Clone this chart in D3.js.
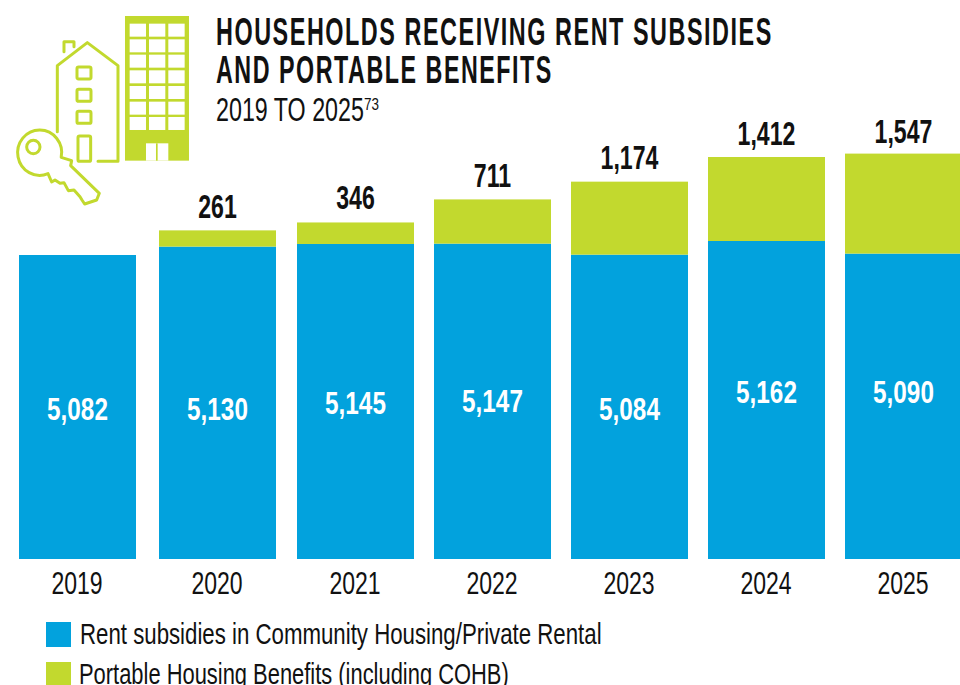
<!DOCTYPE html>
<html><head><meta charset="utf-8">
<script src="https://cdn.jsdelivr.net/npm/d3@7"></script>
<style>
html,body{margin:0;padding:0;background:#fff;overflow:hidden}
svg text{font-family:"Liberation Sans",sans-serif}
</style></head><body>
<svg id="chart" width="960" height="685"></svg>
<script>
// ---- data ----
const years = [2019,2020,2021,2022,2023,2024,2025];
const rentSubsidies = [5082,5130,5145,5147,5084,5162,5090];
const portableBenefits = [0,261,346,711,1174,1412,1547];
const seriesNames = ["Rent subsidies in Community Housing/Private Rental","Portable Housing Benefits (including COHB)"];
const titleLines = ["HOUSEHOLDS RECEIVING RENT SUBSIDIES","AND PORTABLE BENEFITS"];
const subtitle = "2019 TO 2025";
const footnote = "73";

// ---- layout / style ----
const BLUE="#02A2DD", GREEN="#C2D92E", INK="#111";
const barW=117, baseY=559;
const svg=d3.select("#chart");

// The source's bars sit slightly unevenly and its blue axis does not start at zero.
const xLeft=d3.scaleLinear().domain([2019,2020,2021,2025]).range([19,159,297,845]);
const xMid=d => xLeft(d)+barW/2;
const xAxisScale=d3.scaleLinear().domain(xLeft.domain()).range(xLeft.range().map(v=>v+barW/2-1));
const yBlue=d3.scaleLinear().domain([3345,5162]).range([baseY,241]);
const hGreen=d3.scaleLinear().domain([0,1174,1412,1547]).range([0,73,84,100]);
const blueLabelY=d3.scaleOrdinal(years,[420,420,414,412,420,403,403]);
const totalGap=d3.scaleOrdinal(years,[0,12,13,12,13,12,11]);

const rows=years.map((y,i)=>({year:y,blue:rentSubsidies[i],green:portableBenefits[i]}));
const fmt=d3.format(",");

function label(parent,x,y,str,size,weight,fill,sx,anchor){
  return parent.append("text").attr("transform",`translate(${x},${y}) scale(${sx},1)`)
    .attr("text-anchor",anchor||"middle").attr("font-size",size).attr("font-weight",weight)
    .attr("fill",fill).text(str);
}
function fitted(parent,x,y,str,size,weight,fill,width,spacing){
  const t=label(parent,x,y,str,size,weight,fill,1,"start");
  if(spacing) t.attr("letter-spacing",spacing);
  const w=t.node().getComputedTextLength();
  t.attr("transform",`translate(${x},${y}) scale(${width/w},1)`);
  return t;
}

// ---- bars ----
const g=svg.append("g");
g.selectAll("rect.blue").data(rows).join("rect").attr("class","blue")
  .attr("x",d=>xLeft(d.year)).attr("width",barW)
  .attr("y",d=>yBlue(d.blue)).attr("height",d=>baseY-yBlue(d.blue)).attr("fill",BLUE);
g.selectAll("rect.green").data(rows.filter(d=>d.green>0)).join("rect").attr("class","green")
  .attr("x",d=>xLeft(d.year)).attr("width",barW)
  .attr("y",d=>yBlue(d.blue)-hGreen(d.green)).attr("height",d=>hGreen(d.green)).attr("fill",GREEN);

rows.forEach(d=>{
  label(g,xMid(d.year),blueLabelY(d.year),fmt(d.blue),32,"bold","#fff",.76);
  if(d.green>0) label(g,xMid(d.year),yBlue(d.blue)-hGreen(d.green)-totalGap(d.year),fmt(d.green),34,"bold",INK,.68);
});

// ---- axis ----
const axis=svg.append("g").attr("transform",`translate(0,${baseY})`)
  .call(d3.axisBottom(xAxisScale).tickValues(years).tickFormat(d3.format("d")).tickSize(0).tickPadding(0));
axis.select(".domain").remove();
axis.attr("font-family",null);
axis.selectAll("text").attr("font-size",32).attr("fill",INK).attr("dy",0).attr("y",35)
  .attr("transform","scale(.72,1)");

// ---- titles ----
fitted(svg,216,45,titleLines[0],38,"bold",INK,557,2.5);
fitted(svg,216,83,titleLines[1],38,"bold",INK,337,2.5);
fitted(svg,216,121,subtitle,33,"normal",INK,148);
fitted(svg,364,110,footnote,17,"normal",INK,15);

// ---- legend ----
const legendY=[622,662];
seriesNames.forEach((n,i)=>{
  svg.append("rect").attr("x",46).attr("y",legendY[i]).attr("width",25).attr("height",25).attr("fill",i?GREEN:BLUE);
});
fitted(svg,80,644,seriesNames[0],29,"normal",INK,522);
fitted(svg,79,684,seriesNames[1],29,"normal",INK,430);

// ---- icon ----
const ic=svg.append("g").attr("transform","scale(0.3333)");
ic.append("rect").attr("x",375).attr("y",48).attr("width",192).attr("height",434).attr("fill",GREEN);
const colX=[389,447,505], rowY=[71,118,164,211,258,305,351];
colX.forEach(cx=>rowY.forEach(ry=>ic.append("rect").attr("x",cx).attr("y",ry).attr("width",49).attr("height",39).attr("fill","#fff")));
ic.append("rect").attr("x",438).attr("y",430).attr("width",67).attr("height",52).attr("fill","#fff");
ic.append("rect").attr("x",468).attr("y",430).attr("width",5).attr("height",52).attr("fill",GREEN);
const line={fill:"none",stroke:GREEN,"stroke-width":9,"stroke-linejoin":"round","stroke-linecap":"round"};
function path(d,o){const p=ic.append("path").attr("d",d);Object.entries(o).forEach(([k,v])=>p.attr(k,v));return p;}
path("M172 395V197L262 128L354 197V484H294",line);
path("M192 155V125H222V140",line);
[[231,201,42,36],[231,268,42,36],[231,334,42,36],[234,408,38,76]].forEach(r=>{
  ic.append("rect").attr("x",r[0]).attr("y",r[1]).attr("width",r[2]).attr("height",r[3]).attr("rx",5)
    .attr("fill","none").attr("stroke",GREEN).attr("stroke-width",9);
});
path("M183.6 472A66 68 0 1 0 144 521L155 546L165 540L180 550L192 548L205 572L222 570L240 590L246 600L254 612L290 600L298 580L212 497L215 482Z",
  Object.assign({},line,{"fill":"#fff"}));
path("M120 441A20 20 0 1 1 80 441A20 20 0 1 1 120 441Z",line);
</script>
</body></html>
